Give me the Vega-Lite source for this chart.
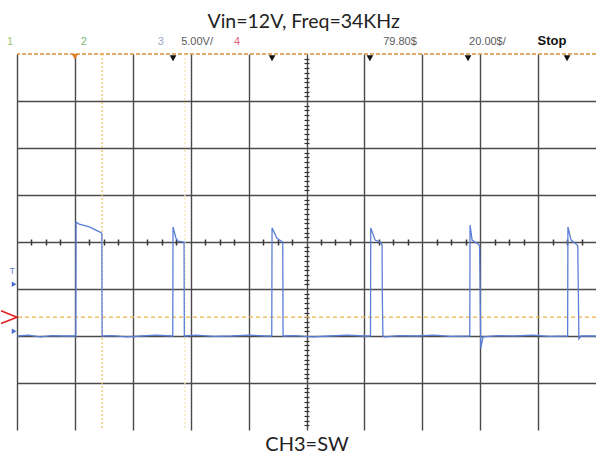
{
  "$schema": "https://vega.github.io/schema/vega-lite/v6.json",
  "width": 579,
  "height": 376,
  "autosize": {"type": "none"},
  "padding": {"left": 17, "top": 54, "right": 0, "bottom": 25},
  "background": "white",
  "config": {"view": {"stroke": null}, "font": "Lato"},
  "datasets": {
    "trace": [
      {"t": 0, "v": 0}, {"t": 4, "v": 0.1}, {"t": 8, "v": -0.1}, {"t": 12, "v": 0.05}, {"t": 16, "v": 0}, {"t": 20.3, "v": 0},
      {"t": 20.4, "v": 12.1}, {"t": 21.5, "v": 11.9}, {"t": 25, "v": 11.6}, {"t": 29.0, "v": 11.0}, {"t": 29.3, "v": 10.9}, {"t": 29.4, "v": 0},
      {"t": 33, "v": 0.05}, {"t": 38, "v": -0.1}, {"t": 43, "v": 0}, {"t": 48, "v": 0.1}, {"t": 53.8, "v": 0},
      {"t": 53.9, "v": 11.6}, {"t": 54.9, "v": 10.4}, {"t": 55.6, "v": 10.1}, {"t": 57.7, "v": 10.0}, {"t": 57.8, "v": 0},
      {"t": 62, "v": 0.1}, {"t": 68, "v": -0.05}, {"t": 74, "v": 0}, {"t": 80, "v": 0.1}, {"t": 86, "v": 0}, {"t": 88.0, "v": 0},
      {"t": 88.1, "v": 11.5}, {"t": 89.8, "v": 10.4}, {"t": 91.8, "v": 10.0}, {"t": 91.9, "v": 0},
      {"t": 96, "v": 0.05}, {"t": 102, "v": -0.1}, {"t": 108, "v": 0}, {"t": 114, "v": 0.1}, {"t": 120, "v": 0}, {"t": 122.1, "v": 0},
      {"t": 122.2, "v": 11.5}, {"t": 123.7, "v": 10.2}, {"t": 125.4, "v": 10.0}, {"t": 126.1, "v": 9.7}, {"t": 126.2, "v": 4.0}, {"t": 126.4, "v": 0}, {"t": 127, "v": -0.1},
      {"t": 132, "v": 0.05}, {"t": 138, "v": 0}, {"t": 144, "v": 0.1}, {"t": 150, "v": -0.05}, {"t": 156.4, "v": 0},
      {"t": 156.5, "v": 11.8}, {"t": 157.2, "v": 10.2}, {"t": 159.2, "v": 9.8}, {"t": 159.8, "v": 9.6}, {"t": 160.2, "v": -1.3}, {"t": 161.0, "v": -0.1},
      {"t": 166, "v": 0.05}, {"t": 172, "v": 0}, {"t": 178, "v": 0.1}, {"t": 184, "v": -0.05}, {"t": 190.2, "v": 0},
      {"t": 190.3, "v": 11.6}, {"t": 191.4, "v": 10.2}, {"t": 193.1, "v": 9.8}, {"t": 193.7, "v": 9.6}, {"t": 194.1, "v": -0.3}, {"t": 194.8, "v": 0}, {"t": 200, "v": 0}
    ],
    "markers": [{"t": 53.9}, {"t": 88.1}, {"t": 121.9}, {"t": 155.8}, {"t": 190.0}],
    "toplabels": [
      {"label": "1", "t": -2.4, "kind": "ch1"},
      {"label": "2", "t": 23.1, "kind": "ch2"},
      {"label": "3", "t": 49.7, "kind": "ch3"},
      {"label": "5.00V/", "t": 62.2, "kind": "info"},
      {"label": "4", "t": 76.0, "kind": "ch4"},
      {"label": "79.80$", "t": 132.3, "kind": "info"},
      {"label": "20.00$/", "t": 162.5, "kind": "info"}
    ],
    "one": [{}]
  },
  "data": {"name": "trace"},
  "resolve": {"axis": {"x": "independent", "y": "independent"}},
  "layer": [
    {
      "mark": {"type": "line", "opacity": 0},
      "encoding": {
        "x": {"field": "t", "type": "quantitative", "scale": {"domain": [0, 200], "nice": false, "zero": false},
          "axis": {"orient": "bottom", "values": [0, 20, 40, 60, 80, 100, 120, 140, 160, 180], "grid": true, "gridColor": "#4a4a4a", "gridWidth": 1.4, "domain": false, "ticks": false, "labels": false,
            "title": "CH3=SW", "titleFont": "Lato", "titleFontSize": 20, "titleFontWeight": "normal", "titleColor": "#222", "titleBaseline": "alphabetic", "titlePadding": 20}},
        "y": {"field": "v", "type": "quantitative", "scale": {"domain": [-10, 30], "nice": false, "zero": false},
          "axis": {"orient": "left", "values": [-5, 0, 5, 10, 15, 20, 25], "grid": true, "gridColor": "#4a4a4a", "gridWidth": 1.4, "domain": false, "ticks": false, "labels": false, "title": null}}
      }
    },
    {
      "mark": {"type": "line", "opacity": 0},
      "encoding": {
        "x": {"field": "t", "type": "quantitative",
          "axis": {"orient": "bottom", "offset": -188, "values": [5, 10, 15, 25, 30, 35, 45, 50, 55, 65, 70, 75, 85, 90, 95, 105, 110, 115, 125, 130, 135, 145, 150, 155, 165, 170, 175, 185, 190, 195], "domain": false, "ticks": true, "tickSize": 3, "tickColor": "#333", "tickWidth": 1.5, "labels": false, "grid": false, "title": null}},
        "y": {"field": "v", "type": "quantitative",
          "axis": {"orient": "left", "offset": -289.5, "values": [-9.5, -9, -8.5, -8, -7.5, -7, -6.5, -6, -5.5, -4.5, -4, -3.5, -3, -2.5, -2, -1.5, -1, -0.5, 0.5, 1, 1.5, 2, 2.5, 3, 3.5, 4, 4.5, 5.5, 6, 6.5, 7, 7.5, 8, 8.5, 9, 9.5, 10.5, 11, 11.5, 12, 12.5, 13, 13.5, 14, 14.5, 15.5, 16, 16.5, 17, 17.5, 18, 18.5, 19, 19.5, 20.5, 21, 21.5, 22, 22.5, 23, 23.5, 24, 24.5, 25.5, 26, 26.5, 27, 27.5, 28, 28.5, 29, 29.5], "domain": false, "ticks": true, "tickSize": 2.5, "tickColor": "#333", "tickWidth": 1.2, "labels": false, "grid": false, "title": null}}
      }
    },
    {
      "mark": {"type": "line", "opacity": 0},
      "encoding": {
        "x": {"field": "t", "type": "quantitative",
          "axis": {"orient": "top", "offset": -188, "values": [5, 10, 15, 25, 30, 35, 45, 50, 55, 65, 70, 75, 85, 90, 95, 105, 110, 115, 125, 130, 135, 145, 150, 155, 165, 170, 175, 185, 190, 195], "domain": false, "ticks": true, "tickSize": 3, "tickColor": "#333", "tickWidth": 1.5, "labels": false, "grid": false, "title": null}},
        "y": {"field": "v", "type": "quantitative",
          "axis": {"orient": "right", "offset": -289.5, "values": [-9.5, -9, -8.5, -8, -7.5, -7, -6.5, -6, -5.5, -4.5, -4, -3.5, -3, -2.5, -2, -1.5, -1, -0.5, 0.5, 1, 1.5, 2, 2.5, 3, 3.5, 4, 4.5, 5.5, 6, 6.5, 7, 7.5, 8, 8.5, 9, 9.5, 10.5, 11, 11.5, 12, 12.5, 13, 13.5, 14, 14.5, 15.5, 16, 16.5, 17, 17.5, 18, 18.5, 19, 19.5, 20.5, 21, 21.5, 22, 22.5, 23, 23.5, 24, 24.5, 25.5, 26, 26.5, 27, 27.5, 28, 28.5, 29, 29.5], "domain": false, "ticks": true, "tickSize": 2.5, "tickColor": "#333", "tickWidth": 1.2, "labels": false, "grid": false, "title": null}}
      }
    },
    {
      "data": {"name": "one"},
      "mark": {"type": "rule", "color": "#d4903a", "strokeWidth": 1.6, "strokeDash": [4, 2]},
      "encoding": {"y": {"datum": 30, "type": "quantitative", "axis": null}}
    },
    {
      "data": {"name": "one"},
      "mark": {"type": "rule", "color": "#f0b448", "strokeWidth": 1.3, "strokeDash": [4, 3]},
      "encoding": {"y": {"datum": 2, "type": "quantitative", "axis": null}}
    },
    {
      "data": {"name": "one"},
      "mark": {"type": "rule", "color": "#f2c46a", "strokeWidth": 1.3, "strokeDash": [2, 2]},
      "encoding": {"x": {"datum": 29.4, "type": "quantitative", "axis": null}}
    },
    {
      "data": {"name": "one"},
      "mark": {"type": "rule", "color": "#f3e2b0", "strokeWidth": 1.3, "strokeDash": [2, 2]},
      "encoding": {"x": {"datum": 58.0, "type": "quantitative", "axis": null}}
    },
    {
      "mark": {"type": "line", "color": "#5b7ed6", "strokeWidth": 1.3},
      "encoding": {
        "x": {"field": "t", "type": "quantitative", "axis": null},
        "y": {"field": "v", "type": "quantitative", "axis": null}
      }
    },
    {
      "data": {"name": "markers"},
      "mark": {"type": "point", "shape": "triangle-down", "filled": true, "color": "#111", "size": 45, "opacity": 1},
      "encoding": {
        "x": {"field": "t", "type": "quantitative", "axis": null},
        "y": {"datum": 29.55, "type": "quantitative", "axis": null}
      }
    },
    {
      "data": {"name": "one"},
      "mark": {"type": "point", "shape": "triangle-down", "filled": true, "color": "#e08020", "size": 40, "opacity": 1},
      "encoding": {
        "x": {"datum": 20.0, "type": "quantitative", "axis": null},
        "y": {"datum": 29.7, "type": "quantitative", "axis": null}
      }
    },
    {
      "data": {"name": "toplabels"},
      "mark": {"type": "text", "font": "Liberation Sans", "fontSize": 11, "baseline": "middle", "align": "center"},
      "encoding": {
        "x": {"field": "t", "type": "quantitative", "axis": null},
        "y": {"datum": 31.3, "type": "quantitative", "axis": null},
        "text": {"field": "label"},
        "color": {"field": "kind", "type": "nominal", "legend": null,
          "scale": {"domain": ["ch1", "ch2", "ch3", "info", "ch4"], "range": ["#9cc86a", "#78b87c", "#9aa6c8", "#5a5a5a", "#e0607e"]}}
      }
    },
    {
      "data": {"name": "one"},
      "mark": {"type": "text", "font": "Liberation Sans", "fontSize": 13, "fontWeight": "bold", "baseline": "middle", "align": "center", "color": "#111", "text": "Stop"},
      "encoding": {
        "x": {"datum": 184.8, "type": "quantitative", "axis": null},
        "y": {"datum": 31.4, "type": "quantitative", "axis": null}
      }
    },
    {
      "data": {"name": "one"},
      "mark": {"type": "text", "font": "Lato", "fontSize": 19.5, "baseline": "alphabetic", "align": "center", "color": "#222", "text": "Vin=12V, Freq=34KHz"},
      "encoding": {
        "x": {"datum": 99.0, "type": "quantitative", "axis": null},
        "y": {"datum": 32.8, "type": "quantitative", "axis": null}
      }
    },
    {
      "data": {"name": "one"},
      "mark": {"type": "point", "shape": "M-1,-0.8L1,0L-1,0.8", "filled": false, "color": "#e02020", "strokeWidth": 1.6, "size": 256, "opacity": 1},
      "encoding": {
        "x": {"datum": -2.76, "type": "quantitative", "axis": null},
        "y": {"datum": 2, "type": "quantitative", "axis": null}
      }
    },
    {
      "data": {"name": "one"},
      "mark": {"type": "point", "shape": "triangle-right", "filled": true, "color": "#4a6fd0", "size": 30, "opacity": 1},
      "encoding": {
        "x": {"datum": -1.0, "type": "quantitative", "axis": null},
        "y": {"datum": 5.5, "type": "quantitative", "axis": null}
      }
    },
    {
      "data": {"name": "one"},
      "mark": {"type": "point", "shape": "triangle-right", "filled": true, "color": "#4a6fd0", "size": 30, "opacity": 1},
      "encoding": {
        "x": {"datum": -1.0, "type": "quantitative", "axis": null},
        "y": {"datum": 0.5, "type": "quantitative", "axis": null}
      }
    },
    {
      "data": {"name": "one"},
      "mark": {"type": "text", "font": "Liberation Sans", "fontSize": 9, "baseline": "middle", "align": "center", "color": "#6a86d0", "text": "T"},
      "encoding": {
        "x": {"datum": -1.6, "type": "quantitative", "axis": null},
        "y": {"datum": 6.9, "type": "quantitative", "axis": null}
      }
    }
  ]
}
